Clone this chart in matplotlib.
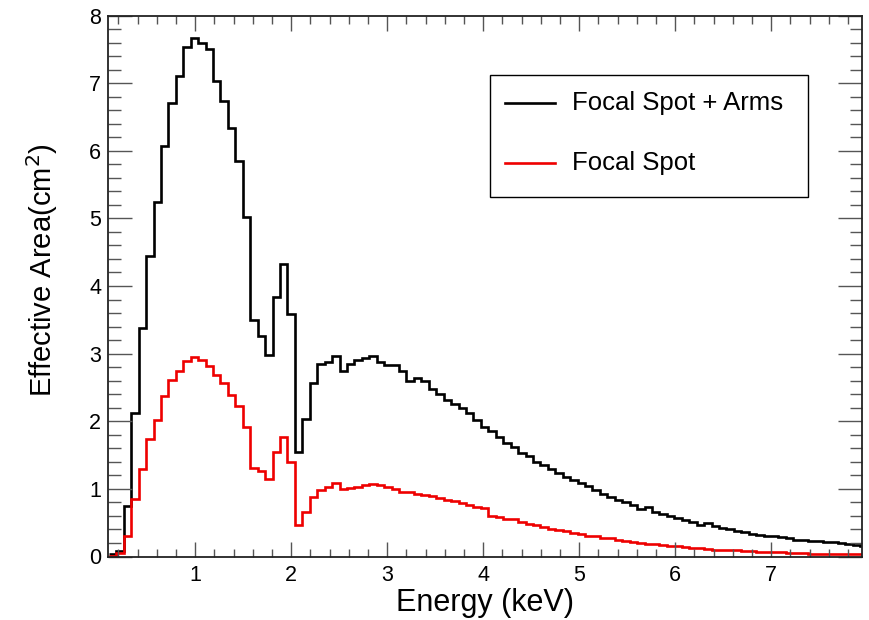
import numpy as np
import matplotlib
matplotlib.use("Agg")
import matplotlib.pyplot as plt
from matplotlib.patches import Rectangle
from matplotlib.lines import Line2D
from matplotlib.ticker import MultipleLocator

plt.rcParams['font.family'] = ['Liberation Sans', 'DejaVu Sans']

# Histogram binning (keV)
e_start = 0.1
bin_width = 0.0775
n_bins = 102

focal_spot_arms = [
    0.03, 0.08, 0.74, 2.12, 3.38, 4.44, 5.24, 6.07, 6.70, 7.10,
    7.54, 7.66, 7.59, 7.50, 7.03, 6.74, 6.34, 5.85, 5.02, 3.50,
    3.26, 2.98, 3.84, 4.33, 3.58, 1.54, 2.03, 2.57, 2.85, 2.88,
    2.96, 2.74, 2.84, 2.90, 2.94, 2.96, 2.88, 2.83, 2.83, 2.74,
    2.60, 2.64, 2.60, 2.47, 2.41, 2.32, 2.26, 2.20, 2.12, 2.02,
    1.92, 1.85, 1.77, 1.68, 1.62, 1.53, 1.48, 1.40, 1.35, 1.29,
    1.23, 1.18, 1.13, 1.09, 1.04, 0.99, 0.93, 0.88, 0.84, 0.81,
    0.76, 0.70, 0.73, 0.66, 0.63, 0.60, 0.57, 0.54, 0.51, 0.47,
    0.49, 0.45, 0.42, 0.40, 0.38, 0.36, 0.34, 0.32, 0.31, 0.30,
    0.29, 0.27, 0.25, 0.24, 0.23, 0.23, 0.22, 0.21, 0.20, 0.18,
    0.17, 0.16,
]

focal_spot = [
    0.01, 0.05, 0.30, 0.85, 1.29, 1.74, 2.02, 2.37, 2.61, 2.75,
    2.89, 2.95, 2.90, 2.82, 2.69, 2.57, 2.39, 2.22, 1.91, 1.31,
    1.26, 1.15, 1.54, 1.77, 1.40, 0.47, 0.66, 0.88, 0.98, 1.03,
    1.09, 1.00, 1.01, 1.03, 1.06, 1.07, 1.06, 1.03, 1.00, 0.96,
    0.95, 0.93, 0.91, 0.89, 0.87, 0.84, 0.82, 0.79, 0.76, 0.73,
    0.71, 0.60, 0.58, 0.56, 0.55, 0.51, 0.48, 0.46, 0.44, 0.41,
    0.39, 0.37, 0.35, 0.33, 0.31, 0.30, 0.28, 0.27, 0.25, 0.23,
    0.21, 0.20, 0.19, 0.18, 0.17, 0.16, 0.15, 0.14, 0.13, 0.12,
    0.11, 0.10, 0.10, 0.09, 0.09, 0.08, 0.08, 0.07, 0.07, 0.06,
    0.06, 0.05, 0.05, 0.05, 0.04, 0.04, 0.04, 0.04, 0.03, 0.03,
    0.03, 0.03,
]

legend_labels = ["Focal Spot + Arms", "Focal Spot"]
x_tick_labels = ["1", "2", "3", "4", "5", "6", "7"]
y_tick_labels = ["0", "1", "2", "3", "4", "5", "6", "7", "8"]

edges = e_start + bin_width * np.arange(n_bins + 1)

fig = plt.figure(figsize=(8.69, 6.2), dpi=100)
ax = fig.add_axes([108.3 / 869, 1 - 556.5 / 620, (862 - 108.3) / 869, (556.5 - 15.5) / 620])

ax.stairs(focal_spot_arms, edges, color='black', lw=1.9, baseline=None)
ax.stairs(focal_spot, edges, color='#ee0000', lw=1.9, baseline=None)

ax.set_xlim(0.094, 7.945)
ax.set_ylim(0, 8)

ax.set_xticks([1, 2, 3, 4, 5, 6, 7])
ax.set_xticklabels(x_tick_labels)
ax.set_yticks(range(9))
ax.set_yticklabels(y_tick_labels)
ax.xaxis.set_minor_locator(MultipleLocator(0.2))
ax.yaxis.set_minor_locator(MultipleLocator(0.2))

ax.tick_params(axis='both', which='both', direction='in', top=True, right=True,
               labelsize=15.5, color='#555555', width=1.0)
ax.tick_params(axis='x', which='major', length=11, pad=6)
ax.tick_params(axis='x', which='minor', length=6)
ax.tick_params(axis='y', which='major', length=17, pad=5)
ax.tick_params(axis='y', which='minor', length=9)

for s in ax.spines.values():
    s.set_linewidth(1.3)
    s.set_color('#222222')

ax.set_xlabel("Energy (keV)", fontsize=22)
ax.set_ylabel("Effective Area(cm$^2$)", fontsize=21)
ax.xaxis.set_label_coords(0.5, -0.058)
ax.yaxis.set_label_coords(-0.064, 0.53)

# Legend box (ROOT style)
ax.add_patch(Rectangle((0.5064, 0.6645), 0.422, 0.2255, transform=ax.transAxes,
                       fill=True, facecolor='white', edgecolor='black', lw=1.0, zorder=5))
ax.add_line(Line2D([0.526, 0.593], [0.838, 0.838], transform=ax.transAxes,
                   color='black', lw=1.9, zorder=6))
ax.add_line(Line2D([0.526, 0.593], [0.727, 0.727], transform=ax.transAxes,
                   color='#ee0000', lw=1.9, zorder=6))
ax.text(0.615, 0.838, legend_labels[0], transform=ax.transAxes, fontsize=18.5,
        va='center', ha='left', zorder=6)
ax.text(0.615, 0.727, legend_labels[1], transform=ax.transAxes, fontsize=18.5,
        va='center', ha='left', zorder=6)

fig.savefig("out.png", dpi=100)
